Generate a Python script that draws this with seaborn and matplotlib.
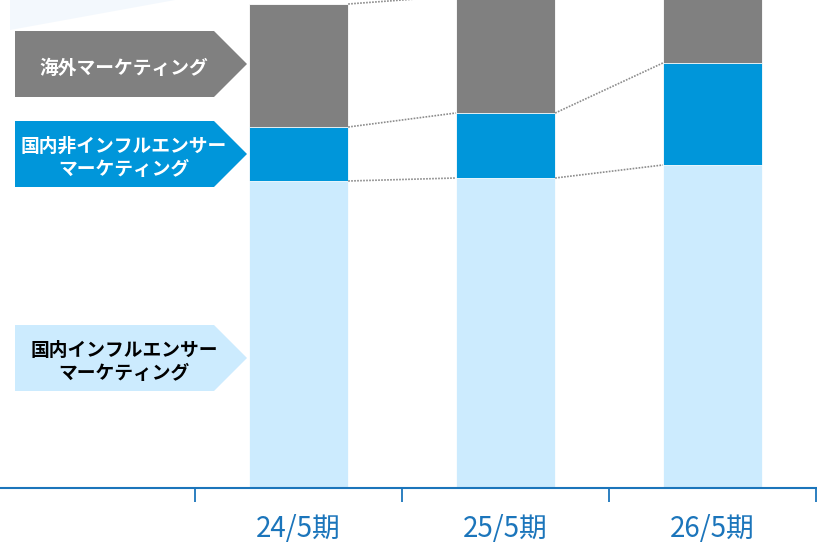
import matplotlib
matplotlib.use("Agg")
import matplotlib.pyplot as plt
from matplotlib.patches import Polygon
import seaborn as sns
import pandas as pd
import numpy as np

# ---- data ----
periods = ["24/5期", "25/5期", "26/5期"]
domestic_influencer = [307, 310, 323]      # 国内インフルエンサーマーケティング
domestic_non_influencer = [54, 65, 102]    # 国内非インフルエンサーマーケティング
overseas = [123, 117, 100]                 # 海外マーケティング
segment_labels = ["海外マーケティング",
                  "国内非インフルエンサー\nマーケティング",
                  "国内インフルエンサー\nマーケティング"]

C_LIGHT = "#CCEBFE"
C_BLUE = "#0096DA"
C_GRAY = "#808080"
C_AXIS = "#1B75BB"

sns.set_style("white")
plt.rcParams["font.family"] = ["Noto Sans CJK JP", "DejaVu Sans"]

W, H = 817, 545
fig = plt.figure(figsize=(W / 100, H / 100), dpi=100)
ax = fig.add_axes([0, (H - 488) / H, 1, 488 / H])

lvl1 = np.array(domestic_influencer, dtype=float)
lvl2 = lvl1 + np.array(domestic_non_influencer)
lvl3 = lvl2 + np.array(overseas)

df = pd.DataFrame({"period": periods, "l1": lvl1, "l2": lvl2, "l3": lvl3})
bw = 0.48
for col, colr in [("l3", C_GRAY), ("l2", C_BLUE), ("l1", C_LIGHT)]:
    sns.barplot(data=df, x="period", y=col, color=colr, width=bw, ax=ax,
                saturation=1, edgecolor="white", linewidth=0.6, zorder=2)

# dotted connectors between bars
xs = np.arange(len(periods))
for lv in (lvl1, lvl2, lvl3):
    for i in range(len(periods) - 1):
        ax.plot([xs[i] + bw / 2, xs[i + 1] - bw / 2], [lv[i], lv[i + 1]],
                linestyle=(0, (1, 0.8)), color="#8c8c8c", linewidth=1.2, zorder=3)

ax.set_ylim(0, 488)
left = -0.5 - 195 / 207
right = 2.5 + 1 / 207
ax.set_xlim(left, right)
ax.set_xlabel("")
ax.set_ylabel("")
ax.set_yticks([])
for s in ["top", "left", "right"]:
    ax.spines[s].set_visible(False)
ax.spines["bottom"].set_color(C_AXIS)
ax.spines["bottom"].set_linewidth(1.5)
ax.set_xticks(xs)
ax.set_xticklabels(periods)
ax.tick_params(axis="x", which="major", bottom=True, length=0, pad=19,
               labelsize=20, labelcolor=C_AXIS)
ax.set_xticks([-0.5, 0.5, 1.5, 2.5], minor=True)
ax.tick_params(axis="x", which="minor", bottom=True, length=10, width=1.3,
               color=C_AXIS, direction="out")
ax.patch.set_alpha(0)


def fp(x, y):
    return (x / W, 1 - y / H)


# faint decorative shape at top-left
fig.patches.append(Polygon([fp(10, 0), fp(175, 0), fp(10, 30)],
                           closed=True, transform=fig.transFigure,
                           facecolor="#F3F8FD", edgecolor="none", zorder=0))

# arrow-shaped legend labels
boxes = [(31, 97, C_GRAY, "white", segment_labels[0]),
         (121, 187, C_BLUE, "white", segment_labels[1]),
         (325, 391, C_LIGHT, "black", segment_labels[2])]
for y0, y1, fc, tc, txt in boxes:
    ym = (y0 + y1) / 2
    pts = [fp(15, y0), fp(214, y0), fp(247, ym), fp(214, y1), fp(15, y1)]
    fig.patches.append(Polygon(pts, closed=True, transform=fig.transFigure,
                               facecolor=fc, edgecolor="none", zorder=1))
    fig.text(*fp(124, ym + 4), txt, ha="center", va="center", color=tc,
             fontsize=13.5, fontweight="bold", linespacing=1.25)

fig.savefig("out.png", dpi=100)
